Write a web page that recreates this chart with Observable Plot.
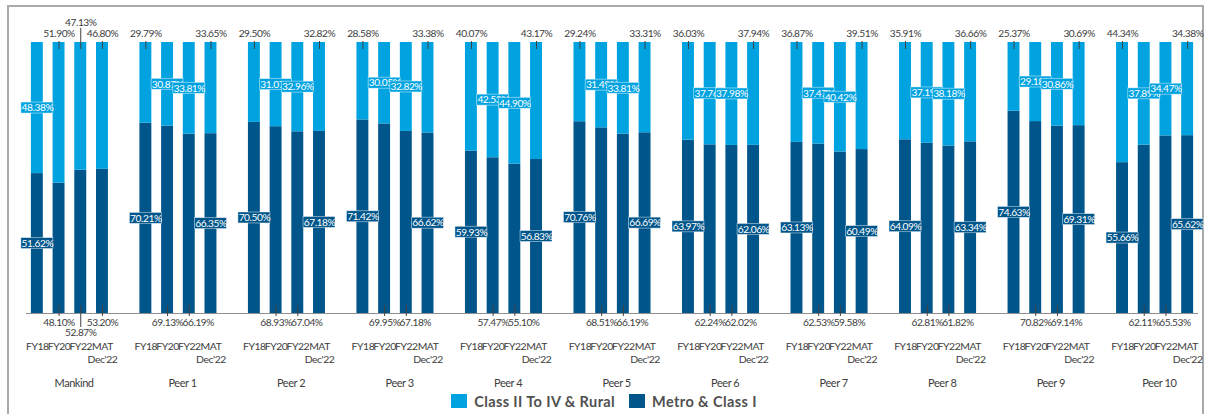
<!DOCTYPE html>
<html>
<head>
<meta charset="utf-8">
<script src="https://cdn.jsdelivr.net/npm/d3@7"></script>
<script src="https://cdn.jsdelivr.net/npm/@observablehq/plot@0.6"></script>
<style>
  body { margin: 0; background: #fff; overflow: hidden; font-family: Lato, sans-serif; }
  #wrap { position: relative; width: 1208px; height: 414px; }
  #frame { position: absolute; left: 7px; top: 5px; width: 1197px; height: 440px; border: 2px solid #a9a9a9; box-sizing: border-box; }
  #chart { position: absolute; left: 0; top: 0; }
  #chart svg text { letter-spacing: -0.45px; }
  #legend { position: absolute; left: 0; top: 393px; width: 1208px; height: 16px; display: flex; justify-content: center; align-items: center; gap: 14px; font-family: Lato, sans-serif; font-weight: 700; font-size: 14.5px; letter-spacing: 0.4px; color: #505050; }
  .item { display: flex; align-items: center; gap: 7px; }
  .sw { width: 16px; height: 14px; display: inline-block; }
</style>
</head>
<body>
<div id="wrap">
  <div id="frame"></div>
  <div id="chart"></div>
  <div id="legend"></div>
</div>
<script>
const groups = ["Mankind", "Peer 1", "Peer 2", "Peer 3", "Peer 4", "Peer 5", "Peer 6", "Peer 7", "Peer 8", "Peer 9", "Peer 10"];
const periods = ["FY18", "FY20", "FY22", "MAT Dec'22"];
const periodTickLabels = ["FY18", "FY20", "FY22", "MAT\nDec'22"];

// Metro & Class I share (%) per group: FY18, FY20, FY22, MAT Dec'22
const metroClassI = [
  [51.62, 48.10, 52.87, 53.20],
  [70.21, 69.13, 66.19, 66.35],
  [70.50, 68.93, 67.04, 67.18],
  [71.42, 69.95, 67.18, 66.62],
  [59.93, 57.47, 55.10, 56.83],
  [70.76, 68.51, 66.19, 66.69],
  [63.97, 62.24, 62.02, 62.06],
  [63.13, 62.53, 59.58, 60.49],
  [64.09, 62.81, 61.82, 63.34],
  [74.63, 70.82, 69.14, 69.31],
  [55.66, 62.11, 65.53, 65.62]
];
// Class II To IV & Rural share (%)
const classIIToIVRural = [
  [48.38, 51.90, 47.13, 46.80],
  [29.79, 30.87, 33.81, 33.65],
  [29.50, 31.07, 32.96, 32.82],
  [28.58, 30.05, 32.82, 33.38],
  [40.07, 42.53, 44.90, 43.17],
  [29.24, 31.49, 33.81, 33.31],
  [36.03, 37.76, 37.98, 37.94],
  [36.87, 37.47, 40.42, 39.51],
  [35.91, 37.19, 38.18, 36.66],
  [25.37, 29.18, 30.86, 30.69],
  [44.34, 37.89, 34.47, 34.38]
];
const seriesNames = ["Class II To IV & Rural", "Metro & Class I"];
const seriesColors = ["#00A3E0", "#00568B"];

const domain = [];
const bars = [];
groups.forEach((g, gi) => {
  periods.forEach((p, pi) => {
    const key = `${gi}-${pi}`;
    domain.push(key);
    bars.push({key, gi, pi, group: g, tick: periodTickLabels[pi],
      metro: metroClassI[gi][pi], rural: classIIToIVRural[gi][pi]});
  });
  if (gi < groups.length - 1) domain.push(`gap-${gi}`);
});

function ruralPlace(b) {
  if (b.gi === 0) return b.pi === 0 ? "mid" : (b.pi === 2 ? "topHigh" : "top");
  return (b.pi === 0 || b.pi === 3) ? "top" : "mid";
}
function metroPlace(b) {
  if (b.gi === 0) return b.pi === 0 ? "mid" : (b.pi === 2 ? "bottomLow" : "bottom");
  if (b.pi === 0 || b.pi === 3) return "mid";
  return b.pi === 2 ? "bottomShift" : "bottom";
}
const labels = [];
bars.forEach(b => {
  labels.push({key: b.key, pi: b.pi, text: b.rural.toFixed(2) + "%", place: ruralPlace(b), ymid: (b.metro + 100) / 2, fill: seriesColors[0]});
  labels.push({key: b.key, pi: b.pi, text: b.metro.toFixed(2) + "%", place: metroPlace(b), ymid: b.metro / 2, fill: seriesColors[1]});
});
const by = (...places) => labels.filter(d => places.includes(d.place));
const mid = (pass) => labels.filter(d => d.place === "mid" && (pass === 0 ? d.pi < 2 : d.pi >= 2));

const txt = "#3d3d3d";
const fs = 10.2;
const midMarks = (pass) => [
  Plot.barY(mid(pass), {x: "key", y1: "ymid", y2: "ymid", fill: "fill", stroke: "#ffffff", strokeOpacity: 0.55, strokeWidth: 0.8,
    insetLeft: -10, insetRight: -10, insetTop: -5.5, insetBottom: -5.5}),
  Plot.text(mid(pass), {x: "key", y: "ymid", text: "text", fill: "white", fontSize: fs})
];

const chart = Plot.plot({
  width: 1208,
  height: 390,
  marginTop: 42,
  marginBottom: 77,
  marginLeft: 26,
  marginRight: 10,
  x: {type: "band", domain, paddingInner: 0.45, paddingOuter: 0.225, axis: null},
  y: {domain: [0, 100], axis: null},
  style: {fontFamily: "Lato, sans-serif", fontSize: "11px", background: "transparent", overflow: "visible"},
  marks: [
    Plot.barY(bars, {x: "key", y1: 0, y2: "metro", fill: seriesColors[1]}),
    Plot.barY(bars, {x: "key", y1: "metro", y2: 100, fill: seriesColors[0]}),
    Plot.ruleY([0], {stroke: "#8f8f8f", strokeWidth: 1}),
    // leader lines
    Plot.ruleX(by("top"), {x: "key", y1: () => 100, y2: () => 100, insetTop: -1, insetBottom: -7, stroke: "#404040", strokeWidth: 1}),
    Plot.ruleX(by("topHigh"), {x: "key", y1: () => 100, y2: () => 100, insetTop: -14, insetBottom: -7, stroke: "#404040", strokeWidth: 1}),
    Plot.ruleX(by("bottom", "bottomShift"), {x: "key", y1: () => 0, y2: () => 0, insetTop: -8, insetBottom: -3, stroke: "#404040", strokeWidth: 1}),
    Plot.ruleX(by("bottomLow"), {x: "key", y1: () => 0, y2: () => 0, insetTop: -8, insetBottom: -14, stroke: "#404040", strokeWidth: 1}),
    // outside labels
    Plot.text(by("top"), {x: "key", y: () => 100, dy: -9, text: "text", fill: txt, fontSize: fs}),
    Plot.text(by("topHigh"), {x: "key", y: () => 100, dy: -20, text: "text", fill: txt, fontSize: fs}),
    Plot.text(by("bottom"), {x: "key", y: () => 0, dy: 9, text: "text", fill: txt, fontSize: fs}),
    Plot.text(by("bottomShift"), {x: "key", y: () => 0, dy: 9, dx: 9, text: "text", fill: txt, fontSize: fs}),
    Plot.text(by("bottomLow"), {x: "key", y: () => 0, dy: 19, text: "text", fill: txt, fontSize: fs}),
    // inside labels, drawn in two passes so later ones cover earlier ones
    ...midMarks(0),
    ...midMarks(1),
    // category ticks
    Plot.text(bars, {x: "key", y: () => 0, dy: 28, text: "tick", lineAnchor: "top", lineHeight: 1.2, fill: txt, fontSize: 10.4}),
    // group labels
    Plot.text(bars.filter(b => b.pi === 1), {x: "key", y: () => 0, dy: 70, dx: 15, text: "group", fill: txt, fontSize: 11})
  ]
});
document.getElementById("chart").appendChild(chart);

const legend = document.getElementById("legend");
seriesNames.forEach((name, i) => {
  const item = document.createElement("span");
  item.className = "item";
  const sw = document.createElement("span");
  sw.className = "sw";
  sw.style.background = seriesColors[i];
  const label = document.createElement("span");
  label.textContent = name;
  item.appendChild(sw);
  item.appendChild(label);
  legend.appendChild(item);
});
</script>
</body>
</html>
